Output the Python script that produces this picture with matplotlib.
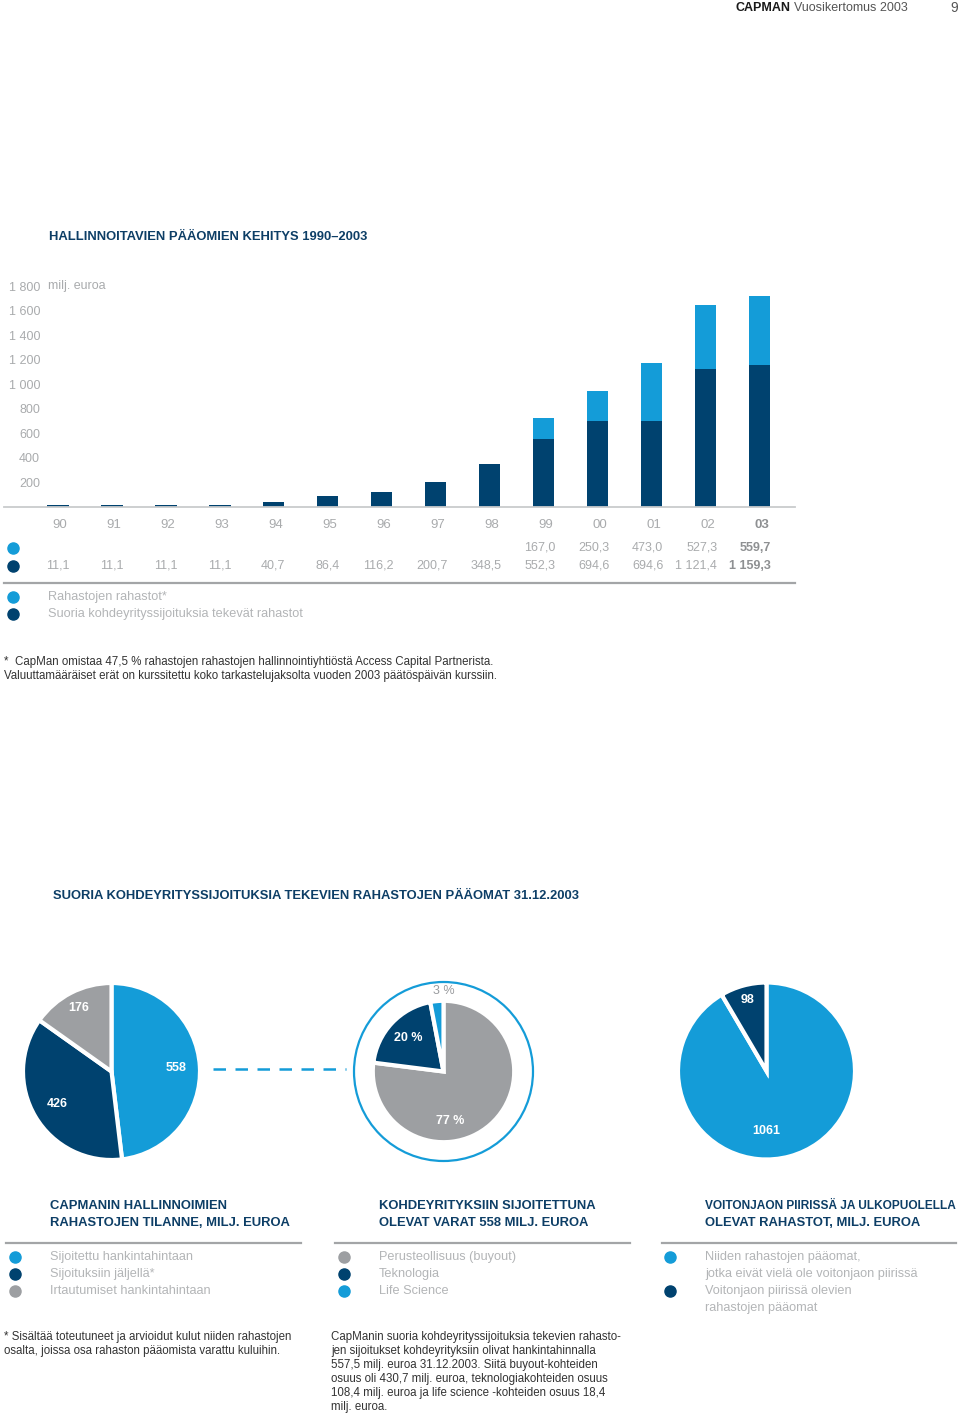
import matplotlib.pyplot as plt
import numpy as np
from matplotlib.patches import Circle
from matplotlib.ticker import FuncFormatter
import matplotlib.transforms as mtransforms

# --- DATA ---
years = ['90', '91', '92', '93', '94', '95', '96', '97', '98', '99', '00', '01', '02', '03']
suorat = [11.1, 11.1, 11.1, 11.1, 40.7, 86.4, 116.2, 200.7, 348.5, 552.3, 694.6, 694.6, 1121.4, 1159.3]
rahastojen = [None, None, None, None, None, None, None, None, None, 167.0, 250.3, 473.0, 527.3, 559.7]
yticks = [200, 400, 600, 800, 1000, 1200, 1400, 1600, 1800]

pie1_labels = ['Sijoitettu hankintahintaan', 'Sijoituksiin jäljellä*', 'Irtautumiset hankintahintaan']
pie1_values = [558, 426, 176]
pie2_labels = ['Perusteollisuus (buyout)', 'Teknologia', 'Life Science']
pie2_values = [77, 20, 3]
pie3_labels = ['Niiden rahastojen pääomat,\njotka eivät vielä ole voitonjaon piirissä',
               'Voitonjaon piirissä olevien\nrahastojen pääomat']
pie3_values = [1061, 98]

# --- STYLE ---
DARK = '#00426f'
LIGHT = '#149cd8'
GRAY = '#9d9fa2'
TITLE = '#0d3e66'
TXT_LIGHT = '#b3b5b7'
TXT_NUM = '#a9abad'
TITLE_FS = 9.4
NOTE_FS = 8.3
plt.rcParams['font.family'] = ['Liberation Sans', 'DejaVu Sans']

W, H = 960, 1416
fig = plt.figure(figsize=(W / 100, H / 100), dpi=100)
renderer = fig.canvas.get_renderer()

# overlay axes in pixel coordinates for page texts
bg = fig.add_axes([0, 0, 1, 1], zorder=0)
bg.set_xlim(0, W)
bg.set_ylim(H, 0)
bg.axis('off')


def fi(v):
    s = f'{v:,.1f}'
    return s.replace(',', ' ').replace('.', ',')


def fit_width(t, max_px):
    # shrink a text until it fits the given pixel width
    w = t.get_window_extent(renderer=renderer).width
    if w > max_px:
        t.set_fontsize(t.get_fontsize() * max_px / w)


# header
bg.text(790, 8, 'CAPMAN', ha='right', va='center', fontsize=9, fontweight='bold', color='#1a1a1a')
bg.text(794, 8, 'Vuosikertomus 2003', ha='left', va='center', fontsize=9, color='#555555')
bg.text(958, 8, '9', ha='right', va='center', fontsize=10, color='#555555')

# --- 1. BAR CHART ---
bg.text(49, 237, 'HALLINNOITAVIEN PÄÄOMIEN KEHITYS 1990–2003', ha='left', va='center',
        fontsize=TITLE_FS, fontweight='bold', color=TITLE)

x0, x1 = 4, 795
ybase, ytop = 506.5, 279.9
ax = fig.add_axes([x0 / W, 1 - ybase / H, (x1 - x0) / W, (ybase - ytop) / H], zorder=1)
ax.patch.set_alpha(0)
x = np.arange(len(years))
bot = np.array(suorat)
top = np.array([v if v is not None else 0 for v in rahastojen])
ax.bar(x, bot, width=0.39, color=DARK)
ax.bar(x, top, width=0.39, bottom=bot, color=LIGHT)
ax.set_xlim(-1.0, 13.65)
ax.set_ylim(0, 1850)
for s in ['top', 'right', 'left']:
    ax.spines[s].set_visible(False)
ax.spines['bottom'].set_color('#c9cbcd')
ax.spines['bottom'].set_linewidth(1.3)
ax.set_xticks([])
ax.set_yticks(yticks)
ax.yaxis.set_major_formatter(FuncFormatter(lambda v, p: f'{int(v):,}'.replace(',', ' ')))
ax.tick_params(axis='y', length=0, pad=-26, labelsize=9, labelcolor=TXT_NUM)
bg.text(48, 286, 'milj. euroa', ha='left', va='center', fontsize=9, color=TXT_NUM)

# table rows below bars
tr = mtransforms.blended_transform_factory(ax.transData, bg.transData)
for i, yr in enumerate(years):
    last = i == len(years) - 1
    kw = dict(fontsize=9, color='#8e9092' if last else TXT_NUM,
              fontweight='bold' if last else 'normal', transform=tr, va='center')
    ax.text(x[i] + 0.17, 525, yr, ha='right', **dict(kw, fontsize=9.5))
    if rahastojen[i] is not None:
        ax.text(x[i] + 0.21, 548, fi(rahastojen[i]), ha='right', **kw)
    ax.text(x[i] + 0.21, 566, fi(suorat[i]), ha='right', **kw)

bg.plot([13], [548], 'o', ms=8, color=LIGHT)
bg.plot([13], [566], 'o', ms=8, color=DARK)
bg.plot([x0, x1], [582.5, 582.5], color='#a3a5a7', lw=1.6)

bg.plot([13], [597], 'o', ms=8, color=LIGHT)
bg.plot([13], [614], 'o', ms=8, color=DARK)
bg.text(48, 597, 'Rahastojen rahastot*', ha='left', va='center', fontsize=9.2, color=TXT_LIGHT)
bg.text(48, 614, 'Suoria kohdeyrityssijoituksia tekevät rahastot', ha='left', va='center',
        fontsize=9.2, color=TXT_LIGHT)

bg.text(4, 662, '*  CapMan omistaa 47,5 % rahastojen rahastojen hallinnointiyhtiöstä Access Capital Partnerista.',
        ha='left', va='center', fontsize=NOTE_FS, color='#333333')
bg.text(4, 676, 'Valuuttamääräiset erät on kurssitettu koko tarkastelujaksolta vuoden 2003 päätöspäivän kurssiin.',
        ha='left', va='center', fontsize=NOTE_FS, color='#333333')

# --- 2. PIES ---
bg.text(53, 896, 'SUORIA KOHDEYRITYSSIJOITUKSIA TEKEVIEN RAHASTOJEN PÄÄOMAT 31.12.2003',
        ha='left', va='center', fontsize=TITLE_FS, fontweight='bold', color=TITLE)


def pie_axes(cx, cy, r):
    k = 1.25
    a = fig.add_axes([(cx - r * k) / W, 1 - (cy + r * k) / H, 2 * r * k / W, 2 * r * k / H], zorder=2)
    a.set_xlim(-k, k)
    a.set_ylim(-k, k)
    a.set_aspect('equal')
    a.axis('off')
    return a


def put_labels(a, wedges, texts, dists, radius=1.0, clock=None, color='white', weight='bold'):
    for j, (w, t) in enumerate(zip(wedges, texts)):
        ang = np.deg2rad((w.theta1 + w.theta2) / 2)
        if clock is not None and clock[j] is not None:
            ang = np.deg2rad(90 - clock[j])
        c = color[j] if isinstance(color, list) else color
        wt = weight[j] if isinstance(weight, list) else weight
        a.text(dists[j] * radius * np.cos(ang), dists[j] * radius * np.sin(ang), t,
               ha='center', va='center', fontsize=9, fontweight=wt, color=c)


wp = dict(edgecolor='white', linewidth=3)

# pie 1
a1 = pie_axes(111.5, 1071.5, 88.5)
w1, _ = a1.pie(pie1_values, colors=[LIGHT, DARK, GRAY], startangle=90, counterclock=False,
               radius=1.0, wedgeprops=wp)
put_labels(a1, w1, [str(v) for v in pie1_values], [0.73, 0.71, 0.81])

# pie 2 with ring
a2 = pie_axes(443.5, 1071.5, 89.5)
r2 = 0.79
w2, _ = a2.pie(pie2_values, colors=[GRAY, DARK, LIGHT], startangle=90, counterclock=False,
               radius=r2, wedgeprops=wp)
a2.add_patch(Circle((0, 0), 1.0, fill=False, edgecolor=LIGHT, lw=1.6))
put_labels(a2, w2, [f'{v} %' for v in pie2_values], [0.70, 0.69, 1.14], radius=r2,
           clock=[172, None, 0], color=['white', 'white', '#999b9e'],
           weight=['bold', 'bold', 'normal'])

# dashed connector
bg.plot([213, 346], [1069, 1069], color=LIGHT, lw=1.8, ls=(0, (5.0, 3.8)))

# pie 3
a3 = pie_axes(766.5, 1071, 88.5)
w3, _ = a3.pie(pie3_values, colors=[LIGHT, DARK], startangle=90, counterclock=False,
               radius=1.0, wedgeprops=wp)
put_labels(a3, w3, [str(v) for v in pie3_values], [0.68, 0.83], clock=[180, None])

# --- 3. BOTTOM LEGENDS ---
cols = [
    dict(x=50, line=(6, 301), dot=15,
         title=['CAPMANIN HALLINNOIMIEN', 'RAHASTOJEN TILANNE, MILJ. EUROA'],
         labels=pie1_labels, colors=[LIGHT, DARK, GRAY]),
    dict(x=379, line=(335, 630), dot=344,
         title=['KOHDEYRITYKSIIN SIJOITETTUNA', 'OLEVAT VARAT 558 MILJ. EUROA'],
         labels=pie2_labels, colors=[GRAY, DARK, LIGHT]),
    dict(x=705, line=(662, 956), dot=670,
         title=['VOITONJAON PIIRISSÄ JA ULKOPUOLELLA', 'OLEVAT RAHASTOT, MILJ. EUROA'],
         labels=pie3_labels, colors=[LIGHT, DARK]),
]
for c in cols:
    for k, t in enumerate(c['title']):
        tt = bg.text(c['x'], 1206 + 17 * k, t, ha='left', va='center', fontsize=TITLE_FS,
                     fontweight='bold', color=TITLE)
        fit_width(tt, W - 4 - c['x'])
    bg.plot(c['line'], [1243, 1243], color='#a3a5a7', lw=1.6)
    yy = 1257
    for lab, col in zip(c['labels'], c['colors']):
        bg.plot([c['dot']], [yy], 'o', ms=8, color=col)
        for ln in lab.split('\n'):
            bg.text(c['x'], yy, ln, ha='left', va='center', fontsize=9.2, color=TXT_LIGHT)
            yy += 17

note1 = ['* Sisältää toteutuneet ja arvioidut kulut niiden rahastojen',
         'osalta, joissa osa rahaston pääomista varattu kuluihin.']
note2 = ['CapManin suoria kohdeyrityssijoituksia tekevien rahasto-',
         'jen sijoitukset kohdeyrityksiin olivat hankintahinnalla',
         '557,5 milj. euroa 31.12.2003. Siitä buyout-kohteiden',
         'osuus oli 430,7 milj. euroa, teknologiakohteiden osuus',
         '108,4 milj. euroa ja life science -kohteiden osuus 18,4',
         'milj. euroa.']
for k, t in enumerate(note1):
    bg.text(4, 1337 + 14 * k, t, ha='left', va='center', fontsize=NOTE_FS, color='#333333')
for k, t in enumerate(note2):
    bg.text(331, 1337 + 14 * k, t, ha='left', va='center', fontsize=NOTE_FS, color='#333333')

fig.savefig('out.png', dpi=100)
